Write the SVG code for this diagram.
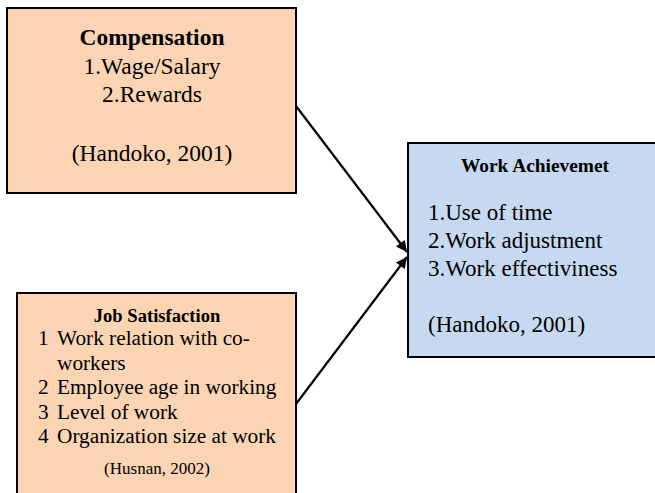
<svg xmlns="http://www.w3.org/2000/svg" width="655" height="493" viewBox="0 0 655 493">
<style>
.box{stroke:#000;stroke-width:2}
.peach{fill:#FBD4B4}
.blue{fill:#C6D9F1}
text{fill:#000}
.c{text-anchor:middle}
.b{font-weight:bold}
.conn{stroke:#000;stroke-width:2.2;fill:none}
</style>
<defs>
<marker id="ah" viewBox="0 0 10 10" refX="10" refY="5" markerWidth="7" markerHeight="5" orient="auto" markerUnits="strokeWidth">
<path d="M0,0 L10,5 L0,10 z" fill="#000"/>
</marker>
</defs>
<rect width="655" height="493" fill="#fff"/>
<g id="connectors">
<line class="conn" x1="296" y1="106" x2="407" y2="252" marker-end="url(#ah)"/>
<line class="conn" x1="296" y1="404" x2="407" y2="257" marker-end="url(#ah)"/>
</g>
<g id="compensation" font-family="Liberation Serif, DejaVu Serif, serif">
<rect class="box peach" x="7" y="8" width="289" height="185"/>
<text class="c b" x="152" y="45" font-size="23.5">Compensation</text>
<text class="c" x="152" y="74" font-size="23.5">1.Wage/Salary</text>
<text class="c" x="152" y="102" font-size="23.5">2.Rewards</text>
<text class="c" x="152" y="161" font-size="23.5">(Handoko, 2001)</text>
</g>
<g id="job-satisfaction" font-family="Liberation Serif, DejaVu Serif, serif">
<rect class="box peach" x="17" y="293" width="279" height="210"/>
<text class="c b" x="157" y="322" font-size="18.6">Job Satisfaction</text>
<text x="38" y="345" font-size="21.3">1</text>
<text x="57" y="345" font-size="21.3">Work relation with co-</text>
<text x="57" y="370" font-size="21.3">workers</text>
<text x="38" y="394" font-size="21.3">2</text>
<text x="57" y="394" font-size="21.3">Employee age in working</text>
<text x="38" y="419" font-size="21.3">3</text>
<text x="57" y="419" font-size="21.3">Level of work</text>
<text x="38" y="443" font-size="21.3">4</text>
<text x="57" y="443" font-size="21.3">Organization size at work</text>
<text class="c" x="157" y="474" font-size="17">(Husnan, 2002)</text>
</g>
<g id="work-achievement" font-family="Liberation Serif, DejaVu Serif, serif">
<rect class="box blue" x="408" y="143" width="260" height="214"/>
<text class="c b" x="535" y="172" font-size="19.4">Work Achievemet</text>
<text x="428" y="220" font-size="23">1.Use of time</text>
<text x="428" y="248" font-size="23">2.Work adjustment</text>
<text x="428" y="276" font-size="23">3.Work effectiviness</text>
<text x="428" y="332" font-size="23">(Handoko, 2001)</text>
</g>
</svg>
